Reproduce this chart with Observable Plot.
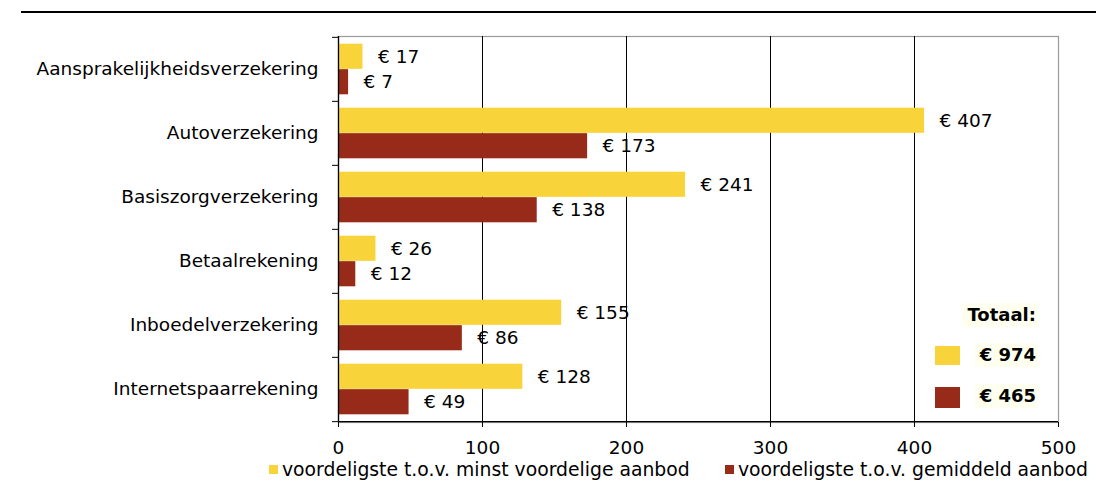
<!DOCTYPE html>
<html>
<head>
<meta charset="utf-8">
<script src="https://cdn.jsdelivr.net/npm/d3@7"></script>
<script src="https://cdn.jsdelivr.net/npm/@observablehq/plot@0.6"></script>
<style>
  html, body { margin: 0; padding: 0; background: #fff; }
  body { font-family: "DejaVu Sans", Verdana, sans-serif; color: #000; }
  #wrap { position: relative; width: 1096px; height: 488px; overflow: hidden; }
  #rule { position: absolute; left: 21px; right: 0; top: 11px; border-top: 2px solid #000; }
  #chart { position: absolute; left: 0; top: 0; }
  .legend-item { position: absolute; top: 459px; height: 22px; line-height: 22px; font-size: 18.8px; white-space: nowrap; }
  .legend-item .sw { position: absolute; left: 0; top: 6px; width: 9px; height: 9px; }
  .legend-item .lbl { position: absolute; left: 13px; top: 0; }
  .tot { position: absolute; background: #FFFFF0; font-weight: bold; font-size: 18px; line-height: 24px; height: 24px; padding: 0 2px 0 5px; white-space: nowrap; }
  .totsw { position: absolute; left: 935px; width: 25px; }
</style>
</head>
<body>
<div id="wrap">
  <div id="rule"></div>
  <div id="chart"></div>
  <div id="legend"></div>
  <div id="totals"></div>
</div>
<script>
// ---- data ----
const categories = [
  "Aansprakelijkheidsverzekering",
  "Autoverzekering",
  "Basiszorgverzekering",
  "Betaalrekening",
  "Inboedelverzekering",
  "Internetspaarrekening"
];
const minstValues = [17, 407, 241, 26, 155, 128];
const gemiddeldValues = [7, 173, 138, 12, 86, 49];
const seriesNames = [
  "voordeligste t.o.v. minst voordelige aanbod",
  "voordeligste t.o.v. gemiddeld aanbod"
];
const seriesColors = ["#F9D33A", "#972A19"];
const xTicks = [0, 100, 200, 300, 400, 500];
const totalLabel = "Totaal:";

// ---- build table ----
const rows = [];
categories.forEach((c, i) => {
  rows.push({category: c, series: seriesNames[0], value: minstValues[i], k: 0});
  rows.push({category: c, series: seriesNames[1], value: gemiddeldValues[i], k: 1});
});
const totals = [d3.sum(minstValues), d3.sum(gemiddeldValues)];

// ---- layout ----
const W = 1096, H = 460;
const mTop = 36, mBottom = H - 422, mLeft = 338, mRight = 38;
const step = (H - mTop - mBottom) / categories.length;
const pad = 6.7;
const barH = (step - 2 * pad) / 2;

const color = {domain: seriesNames, range: seriesColors};
const euro = d => "€ " + d.value;

const chart = Plot.plot({
  width: W,
  height: H,
  marginTop: mTop,
  marginBottom: mBottom,
  marginLeft: mLeft,
  marginRight: mRight,
  style: {fontFamily: "'DejaVu Sans', Verdana, sans-serif", fontSize: "18.5px", color: "#000", background: "transparent"},
  x: {domain: [0, 500], ticks: xTicks},
  y: {domain: categories, padding: 0, label: null},
  color: color,
  marks: [
    Plot.frame({stroke: "#999", strokeWidth: 1.2}),
    Plot.gridX(xTicks.filter(t => t > 0 && t < 500), {stroke: "#000", strokeOpacity: 1, strokeWidth: 1}),
    Plot.barX(rows.filter(d => d.k === 0), {
      x: "value", y: "category", fill: "series",
      insetTop: pad, insetBottom: pad + barH
    }),
    Plot.barX(rows.filter(d => d.k === 1), {
      x: "value", y: "category", fill: "series",
      insetTop: pad + barH, insetBottom: pad
    }),
    Plot.text(rows.filter(d => d.k === 0), {
      x: "value", y: "category", text: euro,
      textAnchor: "start", dx: 15, dy: -(step / 2 - pad - barH / 2),
      fontSize: 18.5, fill: "#000"
    }),
    Plot.text(rows.filter(d => d.k === 1), {
      x: "value", y: "category", text: euro,
      textAnchor: "start", dx: 15, dy: (step / 2 - pad - barH / 2),
      fontSize: 18.5, fill: "#000"
    }),
    Plot.ruleX([0], {stroke: "#000", strokeWidth: 1.3}),
    Plot.ruleY([categories[categories.length - 1]], {dy: step / 2, stroke: "#000", strokeWidth: 1.3}),
    Plot.axisX({ticks: xTicks, tickSize: 5, tickPadding: 13, label: null, stroke: "#000"}),
    Plot.axisY({tickSize: 0, tickPadding: 20, label: null}),
    Plot.axisY({tickSize: 6, text: null, dy: -step / 2, label: null}),
    Plot.axisY([categories[categories.length - 1]], {tickSize: 6, text: null, dy: step / 2, label: null})
  ]
});
document.getElementById("chart").appendChild(chart);

// ---- legend (below the chart) ----
const legend = document.getElementById("legend");
const legendLeft = [269, 725];
seriesNames.forEach((name, i) => {
  const item = document.createElement("div");
  item.className = "legend-item";
  item.style.left = legendLeft[i] + "px";
  const sw = document.createElement("span");
  sw.className = "sw";
  sw.style.background = seriesColors[i];
  const lbl = document.createElement("span");
  lbl.className = "lbl";
  lbl.textContent = name;
  item.appendChild(sw);
  item.appendChild(lbl);
  legend.appendChild(item);
});

// ---- totals box ----
const tot = document.getElementById("totals");
function addTot(text, top) {
  const d = document.createElement("div");
  d.className = "tot";
  d.style.right = (W - 1038) + "px";
  d.style.top = top + "px";
  d.textContent = text;
  tot.appendChild(d);
}
addTot(totalLabel, 303);
addTot("€ " + totals[0], 343);
addTot("€ " + totals[1], 384);
const swTops = [346, 387], swH = [19, 21];
seriesColors.forEach((c, i) => {
  const s = document.createElement("div");
  s.className = "totsw";
  s.style.top = swTops[i] + "px";
  s.style.height = swH[i] + "px";
  s.style.background = c;
  tot.appendChild(s);
});
</script>
</body>
</html>
